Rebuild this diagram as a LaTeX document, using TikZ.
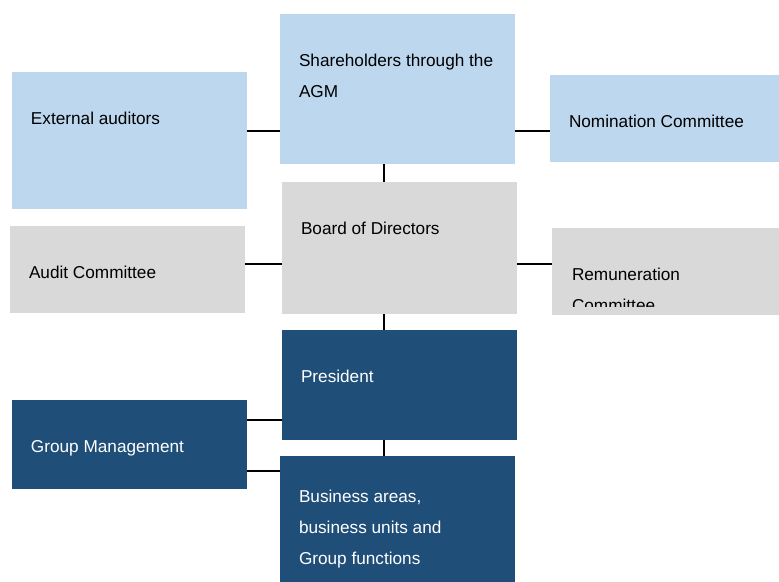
\documentclass[tikz,border=0pt]{standalone}
\usepackage{fontspec}
\setmainfont{Liberation Sans}
\usepackage{xcolor}
\usetikzlibrary{calc,positioning}
\definecolor{lblue}{HTML}{BDD7EE}
\definecolor{lgray}{HTML}{D9D9D9}
\definecolor{dblue}{HTML}{1F4E79}

\begin{document}
\begin{tikzpicture}[x=0.75pt,y=-0.75pt]
\tikzstyle{every node}+=[inner sep=0pt,outer sep=0pt]
\tikzstyle{box}=[rectangle,draw=none,minimum width=176.25pt]
\tikzstyle{txt}=[anchor=base west,align=left,font=\fontsize{12.9}{23.25}\selectfont]
\tikzstyle{link}=[black,line width=1.3pt]
    \useasboundingbox (0,0) rectangle (779,582);
    \node [box,minimum height=112.5pt,fill=lblue] (sh) at (397.5,89) {};
    \node [txt] (shT) at ([shift={(19,83)}]sh.north west) {Shareholders through the\\AGM};
    \node [box,minimum height=102.75pt,fill=lblue] (ext) at (129.5,140.5) {};
    \node [txt] (extT) at ([shift={(19,52)}]ext.north west) {External auditors};
    \node [box,minimum width=171.75pt,minimum height=65.25pt,fill=lblue] (nom) at (664.5,118.5) {};
    \node [txt] (nomT) at ([shift={(19,52)}]nom.north west) {Nomination Committee};
    \node [box,minimum height=99pt,fill=lgray] (bod) at (399.5,248) {};
    \node [txt] (bodT) at ([shift={(19,52)}]bod.north west) {Board of Directors};
    \node [box,minimum height=65.25pt,fill=lgray] (aud) at (127.5,269.5) {};
    \node [txt] (audT) at ([shift={(19,52)}]aud.north west) {Audit Committee};
    \node [box,minimum width=170.25pt,minimum height=65.25pt,fill=lgray] (rem) at (665.5,271.5) {};
    \begin{scope}
    \clip (rem.north west) rectangle ([shift={(0,-9)}]rem.south east);
    \node [txt] (remT) at ([shift={(20,83)}]rem.north west) {Remuneration\\Committee};
    \end{scope}
    \node [box,minimum height=82.5pt,fill=dblue] (pres) at (399.5,385) {};
    \node [txt,white] (presT) at ([shift={(19,52)}]pres.north west) {President};
    \node [box,minimum height=66.75pt,fill=dblue] (gm) at (129.5,444.5) {};
    \node [txt,white] (gmT) at ([shift={(19,52)}]gm.north west) {Group Management};
    \node [box,minimum height=94.5pt,fill=dblue] (bus) at (397.5,519) {};
    \node [txt,white] (busT) at ([shift={(19,108)}]bus.north west) {Business areas,\\business units and\\Group functions};
    \draw [link] ([shift={(0,42)}]sh.west) coordinate (a1) -- (a1 -| ext.east);
    \draw [link] ([shift={(0,42)}]sh.east) coordinate (a2) -- (a2 -| nom.west);
    \draw [link] ([shift={(-13.5,0)}]sh.south) coordinate (a3) -- (a3 |- bod.north);
    \draw [link] ([shift={(0,16)}]bod.west) coordinate (a4) -- (a4 -| aud.east);
    \draw [link] ([shift={(0,16)}]bod.east) coordinate (a5) -- (a5 -| rem.west);
    \draw [link] ([shift={(-15.5,0)}]bod.south) coordinate (a6) -- (a6 |- pres.north);
    \draw [link] ([shift={(0,35)}]pres.west) coordinate (a7) -- (a7 -| gm.east);
    \draw [link] ([shift={(0,-48)}]bus.west) coordinate (a8) -- (a8 -| gm.east);
    \draw [link] ([shift={(-15.5,0)}]pres.south) coordinate (a9) -- (a9 |- bus.north);
\end{tikzpicture}
\end{document}
